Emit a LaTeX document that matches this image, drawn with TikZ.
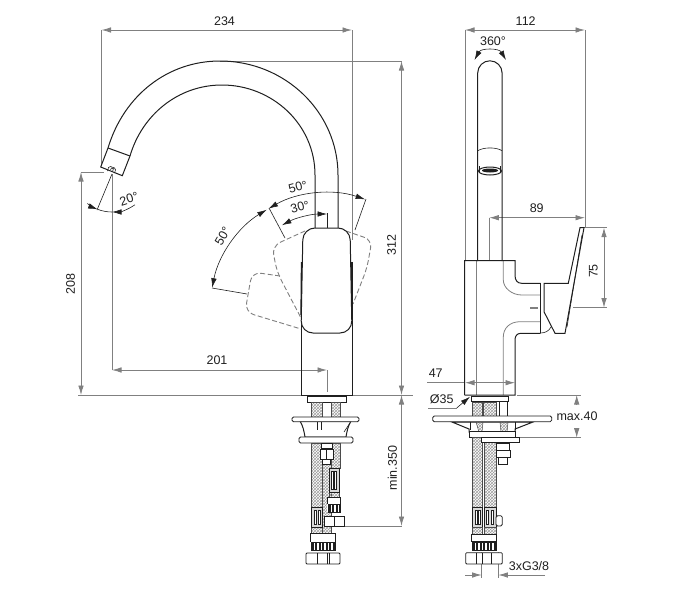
\documentclass[tikz,border=0pt]{standalone}
\usepackage{fontspec}
\setmainfont{Liberation Sans}
\usepackage{tikz}
\usetikzlibrary{arrows.meta,patterns}
\definecolor{dimcol}{rgb}{0.50,0.50,0.50}
\definecolor{inkcol}{rgb}{0.12,0.12,0.12}
\definecolor{hosecol}{rgb}{0.62,0.62,0.62}
\tikzset{
  dimline/.style={draw=dimcol,line width=0.8pt},
  dimarrow/.style={draw=inkcol,line width=0.6pt},
  outline/.style={draw=inkcol,line width=1pt},
  thinline/.style={draw=inkcol,line width=0.6pt},
  dashline/.style={draw=dimcol,line width=0.9pt,dash pattern=on 5pt off 2.5pt},
  partbox/.style={outline,fill=white,line width=0.8pt},
  hosebox/.style={draw=inkcol!80,line width=0.5pt,pattern=crosshatch,pattern color=hosecol},
  dimtext/.style={text=inkcol,inner sep=0pt,font=\fontsize{12.5}{14}\selectfont},
}
\newcommand{\ribs}[3]{% x from, x to, y
  \fill[inkcol] (#1,#3) rectangle (#2,#3+8);
  \pgfmathsetmacro{\ribnext}{#1+3.5}
  \foreach \k in {#1,\ribnext,...,#2} \draw[white,line width=1.1pt] (\k,#3) -- (\k,#3+8);
  \draw[thinline] (#1,#3) rectangle (#2,#3+8);
}
\newcommand{\crimp}[4]{% x left, x right, y top, y bottom
  \draw[partbox,line width=0.6pt,fill=white!85!black] (#1,#3) rectangle (#2,#4);
  \draw[thinline,line width=0.4pt,fill=white] (#1+2.5,#3+3) rectangle (#1+4.5,#4-3);
  \draw[thinline,line width=0.4pt,fill=white] (#2-4.5,#3+3) rectangle (#2-2.5,#4-3);
}
\begin{document}
\begin{tikzpicture}[x=1pt,y=-1pt,>={Latex[length=9.5pt,width=5.5pt]}]
\useasboundingbox (0,0) rectangle (686,600);
\coordinate (lever) at (327,310);
\coordinate (tip) at (112,172);
%%
  % Edge: extension lines, front view
  \draw [dimline] (101.5,30) -- (101.5,166);
  \draw [dimline] (352,30) -- (352,240);
  \draw [dimline] (220,61) -- (402,61);
  \draw [dimline] (81,172) -- (104,172);
  \draw [dimline] (112,174) -- (112,370);
  \draw [dimline] (78,395) -- (413,395);
  \draw [dimline] (343,526) -- (402,526);
  % Edge: dimensions, front view
  \draw [dimline,<->] (101.5,30) -- (352,30);
  \draw [dimline,<->] (401.5,61) -- (401.5,395);
  \draw [dimline,<->] (81,172) -- (81,395);
  \draw [dimline,<->] (112,370) -- (327,370);
  \draw [dimline] (327,370) -- (327,392);
  \draw [dimline,->] (401.5,440) -- (401.5,395);
  \draw [dimline,->] (401.5,440) -- (401.5,526);
  % Edge: spout
  \draw [outline] (108,148) .. controls (124,95) and (168,61) .. (220,61)
     .. controls (285,61) and (338,112) .. (338,175) -- (338,228);
  \draw [outline] (130,156) .. controls (142,115) and (178,85) .. (222,85)
     .. controls (272,85) and (315,124) .. (315,175) -- (315,228);
  \draw [outline] (108,148) -- (130,156);
  \draw [outline] (108,148) -- (100.7,167) -- (122.3,175.7) -- (130,156);
  \draw [thinline,rounded corners=1.5pt] (107.5,171) -- (109,166) -- (116,168.5) -- (114.5,173);
  \draw [thinline] (110.5,170) -- (111.5,168) -- (113.5,168.7) -- (112.7,171);
  % Edge: 20 degree angle
  \draw [dimarrow] (112,174) -- (97,210);
  \draw [dimarrow] (tip) ++(111:40) arc[start angle=111,end angle=90,radius=40];
  \draw [dimarrow,->] (tip) ++(128:40) arc[start angle=128,end angle=111,radius=40];
  \draw [dimarrow,->] (tip) ++(55:40) arc[start angle=55,end angle=90,radius=40];
  % Edge: dashed lever positions
  \draw [dashline,rounded corners=9pt] (305,231) -- (272,246) -- (277,272) -- (301,318);
  \draw [dashline,rounded corners=8pt] (346,231) -- (372,240) -- (367,268) -- (353,304);
  \draw [dashline,rounded corners=9pt] (280,276) -- (252,272) -- (245,312) -- (301,329);
  % Edge: lever swing dimensions
  \draw [dimarrow] (269,208) -- (285,238);
  \draw [dimarrow] (366,199) -- (355,230);
  \draw [dimarrow] (212,288) -- (247,294);
  \draw [dimarrow] (327,213) -- (327,228);
  \draw [dimarrow,<->] (lever) ++(-120:117) arc[start angle=-120,end angle=-71,radius=117];
  \draw [dimarrow,<->] (lever) ++(-169:117) arc[start angle=-169,end angle=-121,radius=117];
  \draw [dimarrow,<->] (lever) ++(-118:96) arc[start angle=-118,end angle=-90,radius=96];
  % Node: mixer body
\begin{scope}
  \draw [outline] (301.5,262) -- (301.5,395) -- (352,395) -- (352,262);
  \draw [partbox,line width=1pt,rounded corners=12pt] (326,228) -- (350,228) -- (352,333) -- (301,333) -- (303,228) -- cycle;
  \draw [line width=1.3pt,inkcol] (301.5,262) -- (301,315);
  \draw [line width=1.3pt,inkcol] (351.5,262) -- (352,315);
\end{scope}
  % Node: escutcheon and mounting set
\begin{scope}
  \draw [partbox] (307.5,396.5) rectangle (346,402);
  \draw [hosebox] (311.7,402) rectangle (322.7,417);
  \draw [hosebox] (331,402) rectangle (340,417);
  \draw [outline,fill=white] (300,421) .. controls (303,426) and (304,431) .. (305,437) -- (346,437)
     .. controls (347,431) and (348,426) .. (351,421) -- cycle;
  \draw [thinline] (317.3,422) -- (317.3,430);
  \draw [thinline] (321,422) -- (321,430);
  \draw [thinline] (350,423) -- (344,432);
  \draw [partbox,rounded corners=1.5pt] (292,417) rectangle (359,421.7);
  \draw [partbox,rounded corners=1.5pt] (299,437) rectangle (353,443);
  \draw [hosebox] (311.7,443) rectangle (322.7,507);
  \draw [hosebox] (322.7,464) rectangle (331,533);
  \draw [hosebox] (331,443) rectangle (340,468);
  \draw [hosebox] (329,492) rectangle (339,497);
  \draw [hosebox] (311.7,527) rectangle (322.7,533);
  \draw [partbox] (321,443) rectangle (332.7,448);
  \draw [partbox] (320,449) rectangle (333.3,459);
  \draw [thinline] (326.5,449) -- (326.5,459);
  \draw [partbox] (322.7,459) rectangle (330,464);
  \crimp{329}{339}{468}{492}
  \crimp{311.7}{322.7}{507}{527}
  \draw [partbox] (327.7,497) rectangle (340,504);
  \ribs{328}{340}{504}
  \draw [partbox] (324,516) rectangle (344,526);
  \draw [thinline] (334,516) -- (334,526);
  \draw [partbox] (310,533) rectangle (335.7,542);
  \ribs{311}{335}{542}
  \draw [partbox,rounded corners=1pt] (306,553) rectangle (340,564);
  \draw [thinline] (317,553) -- (317,564);
  \draw [thinline] (327,553) -- (327,564);
  \draw [thinline] (329.5,553) -- (329.5,564);
\end{scope}
  % Edge: extension lines, side view
  \draw [dimline] (465,30) -- (465,260);
  \draw [dimline] (585,30) -- (585,228);
  \draw [dimline] (489.3,217.7) -- (489.3,260);
  \draw [dimline] (584,227.7) -- (607,227.7);
  \draw [dimline] (573,307.7) -- (607,307.7);
  \draw [dimline] (517,395) -- (581,395);
  \draw [dimline] (520,437.7) -- (581,437.7);
  \draw [dimline] (481.7,552) -- (481.7,578);
  \draw [dimline] (498.3,552) -- (498.3,578);
  % Edge: dimensions, side view
  \draw [dimline,<->] (465,30) -- (585,30);
  \draw [dimline,<->] (489.3,217.7) -- (585,217.7);
  \draw [dimline,<->] (604,227.7) -- (604,307.7);
  \draw [dimline] (427,382.7) -- (465,382.7);
  \draw [dimline,<->] (465,382.7) -- (515,382.7);
  \draw [dimline,->] (576.7,405) -- (576.7,395);
  \draw [dimline,->] (576.7,428) -- (576.7,437.7);
  \draw [dimline,->] (465,575) -- (481.7,575);
  \draw [dimline,->] (545,575) -- (498.3,575);
  \draw [dimline] (428,408) -- (456.7,408);
  \draw [dimarrow,->] (456.7,408) -- (470,396.7);
  \draw [dimarrow,<->] (474.5,60) .. controls (481,48) and (499,48) .. (506,60);
  % Node: spout, side view
\begin{scope}
  \draw [outline] (477.7,261) -- (477.7,73) arc[start angle=180,end angle=360,radius=12.2] -- (502.1,261);
  \draw [thinline] (477.7,150.7) .. controls (484,147) and (496,147) .. (502.1,150.7);
  \draw [thinline] (479.5,166) -- (479.5,172);
  \draw [thinline] (500.3,166) -- (500.3,172);
  \draw [outline] (490,171) ellipse[x radius=11.5,y radius=4];
  \fill [inkcol] (490,170.5) ellipse[x radius=8,y radius=2];
\end{scope}
  % Node: body and lever, side view
\begin{scope}
  \draw [dimline] (476.5,261) -- (476.5,395);
  \draw [dimline] (503.3,261) -- (503.3,280) .. controls (503.3,288) and (512,295) .. (521.7,295) -- (540,295);
  \draw [dimline] (540,321.7) -- (520,321.7) .. controls (510,321.7) and (503.3,328) .. (503.3,337) -- (503.3,395);
  \draw [outline] (464.7,395) -- (464.7,260.7) -- (515,260.7) -- (515,275)
     .. controls (515,280) and (517,283.3) .. (521.7,283.3) -- (540.7,283.3);
  \draw [outline] (540.7,333.3) -- (521,333.3) .. controls (517,333.3) and (515,336) .. (515,340) -- (515,395) -- (464.7,395);
  \draw [outline] (540.7,283.3) -- (540.7,333.3);
  \draw [outline] (544,283.3) -- (544,311.7) -- (555,333.3) -- (565,333.3) -- (584,227.7) -- (580,227.7) -- (568.3,283.3) -- cycle;
  \draw [thinline] (567,327) -- (582,235);
  \draw [thinline] (540.7,333) .. controls (545,333) and (549,331) .. (551,327);
  \draw [dimline,line width=1.5pt] (530,308) -- (538,308);
\end{scope}
  % Node: escutcheon and mounting set, side view
\begin{scope}
  \draw [partbox] (471.7,396.7) rectangle (508.3,401.7);
  \draw [hosebox] (472,402) rectangle (482.7,417);
  \draw [hosebox] (483,402) rectangle (496,417);
  \draw [thinline] (499,402) -- (499,417);
  \draw [thinline] (507,402) -- (507,417);
  \draw [outline,fill=white] (452,422) -- (469,429) -- (469,432) -- (515,432) -- (515,429) -- (533,422) -- cycle;
  \draw [hosebox] (476,422) -- (483,422) -- (482,432) -- (479,432) -- cycle;
  \draw [hosebox] (500,422) -- (508,422) -- (507,432) -- (501,432) -- cycle;
  \draw [thinline] (470,422) -- (470,430);
  \draw [thinline] (515,422) -- (515,430);
  \draw [partbox,rounded corners=1.5pt] (432.7,416) rectangle (551.7,421.7);
  \draw [partbox] (469,431.7) rectangle (515,437.7);
  \draw [hosebox] (472.3,437.7) rectangle (482.7,507);
  \draw [hosebox] (484,442) rectangle (496,507);
  \draw [partbox] (481.7,437.7) rectangle (519,442.3);
  \draw [partbox] (496,443) rectangle (509,450);
  \draw [partbox] (496,450) rectangle (510.7,457);
  \draw [partbox] (498,457) rectangle (507,464);
  \crimp{472.3}{482.7}{507}{527}
  \crimp{484}{496}{507}{527}
  \draw [partbox,rounded corners=1.5pt] (496,515.7) rectangle (502.3,526);
  \draw [hosebox] (472.3,527) rectangle (482.7,534);
  \draw [hosebox] (484,527) rectangle (496,534);
  \draw [partbox] (471.7,534) rectangle (496.7,541);
  \ribs{472}{496}{542}
  \draw [partbox,rounded corners=1pt] (465.7,552.7) rectangle (502.3,564);
  \draw [thinline] (476,552.7) -- (476,564);
  \draw [thinline] (482,552.7) -- (482,564);
  \draw [thinline] (491,552.7) -- (491,564);
\end{scope}
  % Node: labels
  \node [dimtext] (widthfront) at (224.5,21) {234};
  \node [dimtext,rotate=90] (heighttotal) at (391.5,245) {312};
  \node [dimtext,rotate=90] (heightspout) at (70.5,284) {208};
  \node [dimtext] (reachfront) at (217,360) {201};
  \node [dimtext,rotate=90] (lengthhose) at (392.5,468) {min.350};
  \node [dimtext,rotate=18] (angletip) at (129,199) {20°};
  \node [dimtext,rotate=15] (angleout) at (298,187) {50°};
  \node [dimtext,rotate=15] (anglein) at (300,207) {30°};
  \node [dimtext,rotate=60] (angleleft) at (222.7,236) {50°};
  \node [dimtext] (widthside) at (525.7,21) {112};
  \node [dimtext] (swivel) at (493,41) {360°};
  \node [dimtext] (reachside) at (536.7,207.7) {89};
  \node [dimtext,rotate=90] (leverheight) at (593.5,271) {75};
  \node [dimtext] (bodywidth) at (435.7,373.3) {47};
  \node [dimtext] (holedia) at (441.7,399) {Ø35};
  \node [dimtext] (deckmax) at (577,415.7) {max.40};
  \node [dimtext] (thread) at (529,565.7) {3xG3/8};
%
\end{tikzpicture}
\end{document}
